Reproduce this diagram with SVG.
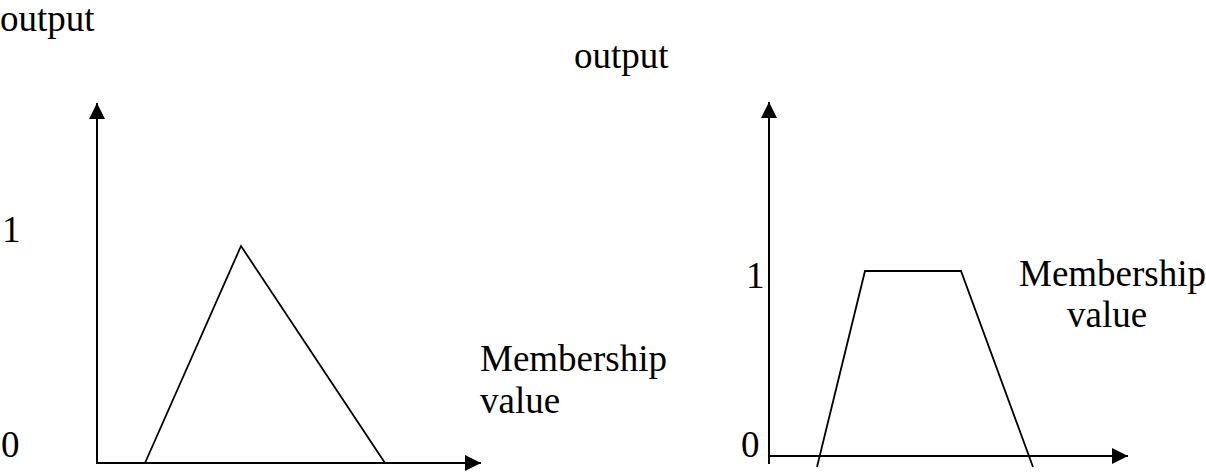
<svg xmlns="http://www.w3.org/2000/svg" width="1206" height="472" viewBox="0 0 1206 472">
<defs>
<style>
text{font-family:"Liberation Serif","Times New Roman",serif;font-size:37px;fill:#000}
.ax{stroke:#000;stroke-width:2;fill:none}
.mf{stroke:#000;stroke-width:1.8;fill:none;stroke-linejoin:miter}
</style>
<marker id="ah" viewBox="0 0 16 16" refX="16" refY="8" markerWidth="16" markerHeight="16" markerUnits="userSpaceOnUse" orient="auto">
<path d="M0,0 L16,8 L0,16 Z" fill="#000"/>
</marker>
</defs>
<rect width="1206" height="472" fill="#fff"/>
<g id="connectors">
<line class="ax" x1="97" y1="464" x2="97" y2="103" marker-end="url(#ah)"/>
<line class="ax" x1="96" y1="463" x2="481" y2="463" marker-end="url(#ah)"/>
<line class="ax" x1="769" y1="464" x2="769" y2="102" marker-end="url(#ah)"/>
<line class="ax" x1="768" y1="456" x2="1128" y2="456" marker-end="url(#ah)"/>
</g>
<g id="left-chart">
<polyline class="mf" points="145,463 241,246 385,463"/>
<text x="0" y="31">output</text>
<text x="2" y="242">1</text>
<text x="1" y="457">0</text>
<text x="480" y="371">Membership</text>
<text x="480" y="413">value</text>
</g>
<g id="right-chart">
<polyline class="mf" points="817,467 865,271 961,271 1033,467"/>
<text x="574" y="68">output</text>
<text x="746" y="288">1</text>
<text x="741" y="457">0</text>
<text x="1019" y="286">Membership</text>
<text x="1067" y="327">value</text>
</g>
</svg>
